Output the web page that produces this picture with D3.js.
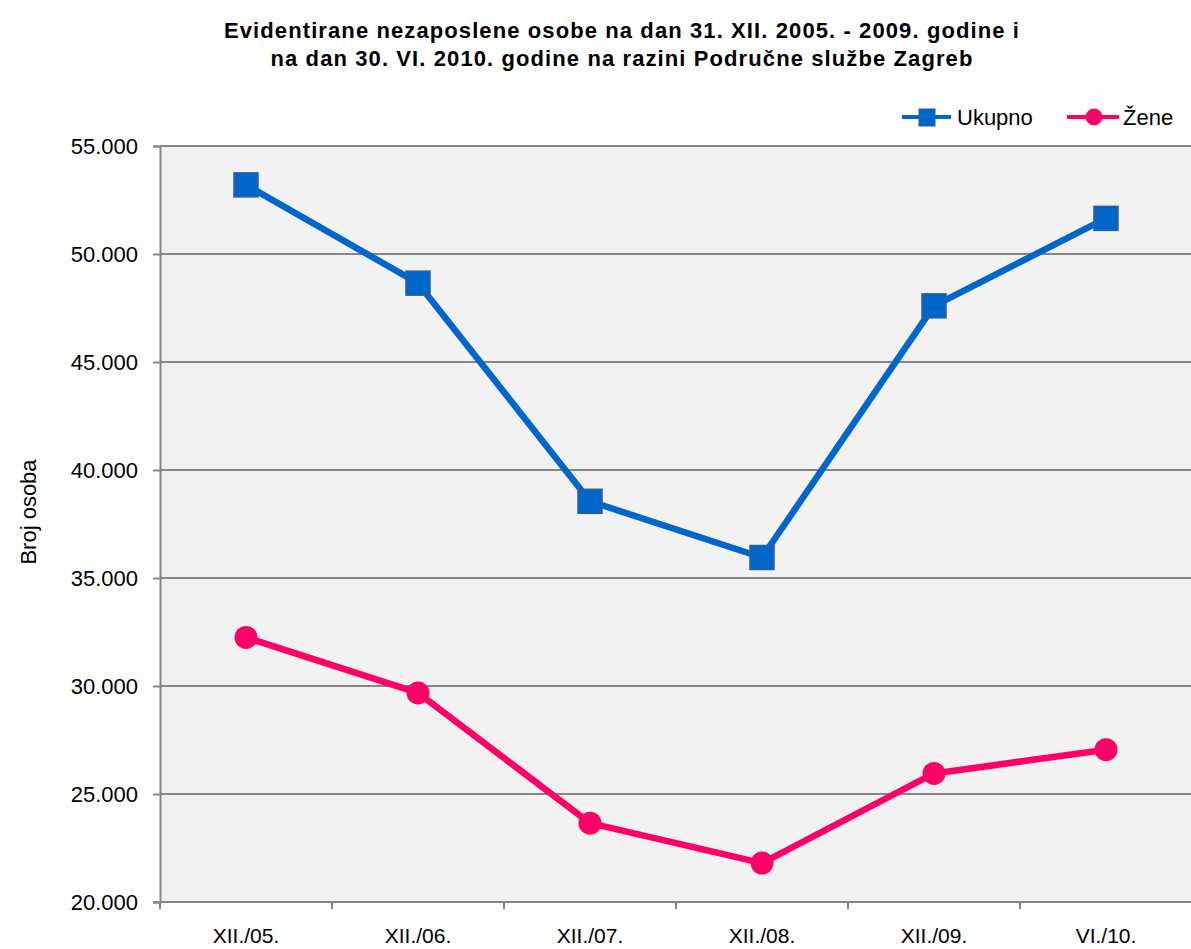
<!DOCTYPE html>
<html>
<head>
  <meta charset="UTF-8">
  <title>Nezaposlene osobe - Zagreb</title>
  <script src="https://cdn.jsdelivr.net/npm/d3@7"></script>
  <style>
    body { margin: 0; background: #fff; }
    text { font-family: "Liberation Sans", Arial, sans-serif; }
  </style>
</head>
<body>
<div class="chart"></div>
<script>
  var categories = ['XII./05.', 'XII./06.', 'XII./07.', 'XII./08.', 'XII./09.', 'VI./10.'];
  var ukupno = [53200, 48650, 38550, 35950, 47600, 51650];
  var zene = [32250, 29680, 23650, 21800, 25950, 27050];
  var yTicks = [20000, 25000, 30000, 35000, 40000, 45000, 50000, 55000];

  var W = 1191, H = 949;
  var margin = { top: 146, right: -1, bottom: 47, left: 160 };
  var width = W - margin.left - margin.right;
  var height = H - margin.top - margin.bottom;

  var svg = d3.select('.chart')
    .append('svg')
      .attr('width', W)
      .attr('height', H);

  var g = svg.append('g')
    .attr('transform', 'translate(' + margin.left + ',' + margin.top + ')');

  var x = d3.scaleBand().domain(categories).range([0, width]);
  var y = d3.scaleLinear().domain([20000, 55000]).range([height, 0]);
  var fmt = function (d) { return d3.format(',')(d).replace(/,/g, '.'); };

  // plot background
  g.append('rect')
    .attr('width', width)
    .attr('height', height)
    .attr('fill', '#f2f2f2');

  // gridlines
  g.selectAll('.grid')
    .data(yTicks)
    .enter().append('line')
      .attr('x1', 0).attr('x2', width)
      .attr('y1', d => y(d)).attr('y2', d => y(d))
      .attr('stroke', '#868686')
      .attr('stroke-width', 2);

  // y axis
  var yAxis = g.append('g')
    .call(d3.axisLeft(y).tickValues(yTicks).tickFormat(fmt).tickSize(7).tickPadding(15));
  yAxis.select('.domain').attr('stroke', '#868686').attr('stroke-width', 2);
  yAxis.selectAll('.tick line').attr('stroke', '#868686').attr('stroke-width', 2);
  yAxis.selectAll('.tick text').attr('font-size', 22).attr('fill', '#000')
    .style('font-family', '"Liberation Sans", Arial, sans-serif');

  // x axis with ticks at band boundaries
  var xAxis = g.append('g')
    .attr('transform', 'translate(0,' + height + ')');
  xAxis.append('line')
    .attr('x1', -7).attr('x2', width)
    .attr('stroke', '#868686').attr('stroke-width', 2);
  xAxis.selectAll('.xt')
    .data(categories)
    .enter().append('line')
      .attr('x1', d => x(d)).attr('x2', d => x(d))
      .attr('y1', 0).attr('y2', 7)
      .attr('stroke', '#868686').attr('stroke-width', 2);
  xAxis.selectAll('.xl')
    .data(categories)
    .enter().append('text')
      .attr('x', d => x(d) + x.bandwidth() / 2)
      .attr('y', 41)
      .attr('text-anchor', 'middle')
      .attr('font-size', 21)
      .text(d => d);

  var cx = d => x(d) + x.bandwidth() / 2;
  var line = d3.line()
    .x((d, i) => cx(categories[i]))
    .y(d => y(d));

  // Ukupno series
  g.append('path')
    .datum(ukupno)
    .attr('d', line)
    .attr('fill', 'none')
    .attr('stroke', '#0066cc')
    .attr('stroke-width', 6.5)
    .attr('stroke-linejoin', 'round');
  g.selectAll('.sq')
    .data(ukupno)
    .enter().append('rect')
      .attr('x', (d, i) => cx(categories[i]) - 12)
      .attr('y', d => y(d) - 12)
      .attr('width', 24).attr('height', 24)
      .attr('fill', '#0066cc')
      .attr('stroke', '#2f5f9a')
      .attr('stroke-width', 1.5);

  // Zene series
  g.append('path')
    .datum(zene)
    .attr('d', line)
    .attr('fill', 'none')
    .attr('stroke', '#ff0066')
    .attr('stroke-width', 6.5)
    .attr('stroke-linejoin', 'round');
  g.selectAll('.ci')
    .data(zene)
    .enter().append('circle')
      .attr('cx', (d, i) => cx(categories[i]))
      .attr('cy', d => y(d))
      .attr('r', 11.5)
      .attr('fill', '#ff0066');

  // title
  var title = svg.append('text')
    .attr('text-anchor', 'middle')
    .attr('font-size', 22)
    .attr('letter-spacing', 1.1)
    .attr('font-weight', 'bold');
  title.append('tspan').attr('x', 622).attr('y', 38)
    .text('Evidentirane nezaposlene osobe na dan 31. XII. 2005. - 2009. godine i');
  title.append('tspan').attr('x', 622).attr('y', 66)
    .text('na dan 30. VI. 2010. godine na razini Područne službe Zagreb');

  // y label
  svg.append('text')
    .attr('transform', 'translate(36,512) rotate(-90)')
    .attr('text-anchor', 'middle')
    .attr('font-size', 22)
    .text('Broj osoba');

  // legend
  var leg = svg.append('g');
  leg.append('line').attr('x1', 902).attr('x2', 951).attr('y1', 117).attr('y2', 117)
    .attr('stroke', '#0066cc').attr('stroke-width', 4);
  leg.append('rect').attr('x', 919).attr('y', 109).attr('width', 16).attr('height', 17)
    .attr('fill', '#0066cc').attr('stroke', '#2f5f9a');
  leg.append('text').attr('x', 957).attr('y', 125).attr('font-size', 22).text('Ukupno');
  leg.append('line').attr('x1', 1067).attr('x2', 1119).attr('y1', 117).attr('y2', 117)
    .attr('stroke', '#ff0066').attr('stroke-width', 4);
  leg.append('circle').attr('cx', 1094).attr('cy', 117).attr('r', 8.5).attr('fill', '#ff0066');
  leg.append('text').attr('x', 1123).attr('y', 125).attr('font-size', 22).text('Žene');
</script>
</body>
</html>
